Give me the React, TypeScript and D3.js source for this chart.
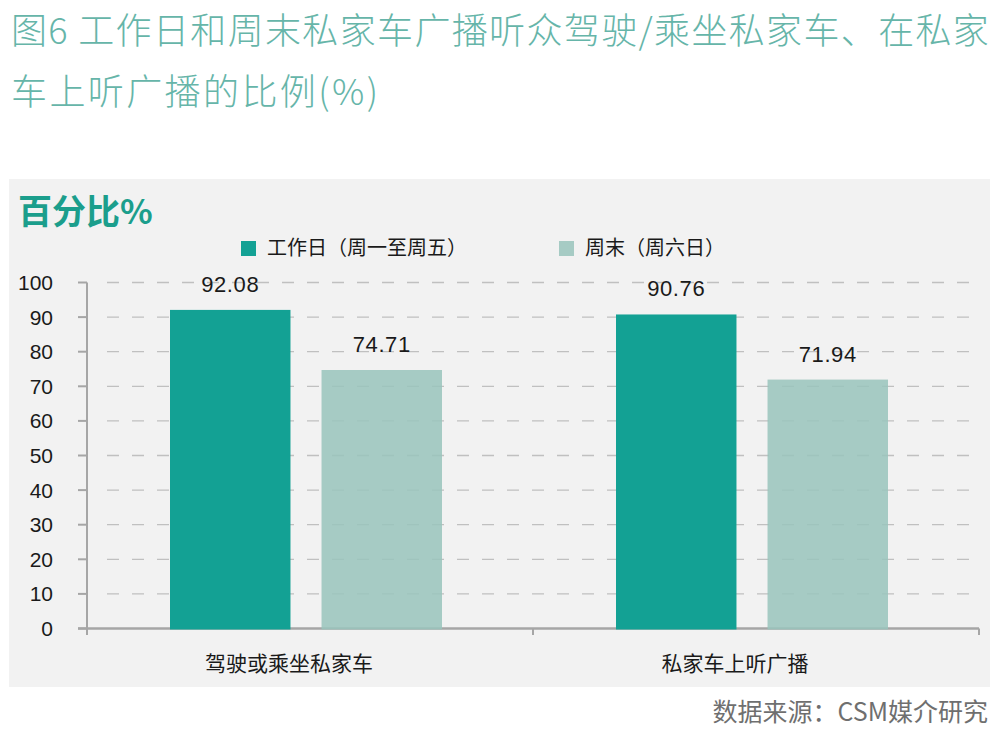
import * as d3 from "d3";

const categories = ["驾驶或乘坐私家车", "私家车上听广播"];
const seriesKeys = ["weekday", "weekend"];
const seriesNames = ["工作日（周一至周五）", "周末（周六日）"];
const weekdayValues = [92.08, 90.76];
const weekendValues = [74.71, 71.94];
const yTicks = [0, 10, 20, 30, 40, 50, 60, 70, 80, 90, 100];

const titleLines = [
  "图6 工作日和周末私家车广播听众驾驶/乘坐私家车、在私家",
  "车上听广播的比例(%)",
];
const unitLabel = "百分比%";
const sourceNote = "数据来源：CSM媒介研究";

const WIDTH = 999;
const HEIGHT = 742;
const cjk = "'Noto Sans CJK SC', 'Noto Sans', sans-serif";
const latin = "'Liberation Sans', Arial, 'Noto Sans CJK SC', sans-serif";
const colors = ["#13a194", "#99c4bc"];
const opacities = [1, 0.85];

function App() {
  const x0 = d3.scaleBand<string>().domain(categories).range([87, 979]).padding(0);
  const x1 = d3.scaleBand<string>().domain(seriesKeys).range([-140, 132]).paddingInner(0.205);
  const y = d3.scaleLinear().domain([0, 100]).range([628.5, 282.5]);

  const rows = categories.map((c, i) => ({
    category: c,
    values: [weekdayValues[i], weekendValues[i]],
  }));

  const axisColor = "#a6a6a6";
  const boundaries = [x0.range()[0] + x0.bandwidth(), x0.range()[1]];

  return (
    <svg
      width={WIDTH}
      height={HEIGHT}
      style={{ position: "absolute", left: 0, top: 0, background: "#fff" }}
    >
      {/* title */}
      {titleLines.map((t, i) => (
        <text
          key={i}
          x={11}
          y={44 + i * 61}
          fill="#66b5a9"
          fontFamily={cjk}
          fontWeight={300}
          fontSize={36}
          letterSpacing={i === 0 ? 1.35 : 2.4}
        >
          {t}
        </text>
      ))}

      {/* panel */}
      <rect x={9} y={179} width={981} height={508} fill="#f2f2f2" />

      <text x={18} y={224} fill="#1b9e8c" fontFamily={cjk} fontWeight={700} fontSize={34}>
        {unitLabel}
      </text>

      {/* legend */}
      {seriesNames.map((name, i) => {
        const lx = [241, 559][i];
        return (
          <g key={name}>
            <rect x={lx} y={241} width={15} height={15} fill={colors[i]} fillOpacity={opacities[i]} />
            <text x={lx + 26} y={255} fill="#1a1a1a" fontFamily={cjk} fontSize={20}>
              {name}
            </text>
          </g>
        );
      })}

      {/* gridlines */}
      {yTicks
        .filter((t) => t > 0)
        .map((t) => (
          <line
            key={t}
            x1={107}
            x2={980}
            y1={y(t)}
            y2={y(t)}
            stroke="#c0c0c0"
            strokeWidth={1.3}
            strokeDasharray="12 13"
          />
        ))}

      {/* axes */}
      <line x1={87} x2={87} y1={y(100)} y2={635} stroke={axisColor} strokeWidth={2} />
      <line x1={78} x2={979} y1={y(0)} y2={y(0)} stroke={axisColor} strokeWidth={2.5} />
      {yTicks.map((t) => (
        <g key={t}>
          <line x1={78} x2={87} y1={y(t)} y2={y(t)} stroke={axisColor} strokeWidth={2} />
          <text
            x={53}
            y={y(t) + 7.5}
            textAnchor="end"
            fill="#1a1a1a"
            fontFamily={latin}
            fontSize={21}
          >
            {t}
          </text>
        </g>
      ))}
      {boundaries.map((bx, i) => (
        <line key={i} x1={bx} x2={bx} y1={y(0)} y2={635} stroke={axisColor} strokeWidth={2} />
      ))}

      {/* bars */}
      {rows.map((r) => {
        const cx = (x0(r.category) ?? 0) + x0.bandwidth() / 2;
        return (
          <g key={r.category}>
            {r.values.map((v, i) => {
              const bx = cx + (x1(seriesKeys[i]) ?? 0);
              return (
                <g key={i}>
                  <rect
                    x={bx}
                    y={y(v)}
                    width={x1.bandwidth()}
                    height={y(0) - y(v) + 1}
                    fill={colors[i]}
                    fillOpacity={opacities[i]}
                  />
                  <text
                    x={bx + x1.bandwidth() / 2}
                    y={y(v) - 18}
                    textAnchor="middle"
                    fill="#1a1a1a"
                    fontFamily={latin}
                    fontSize={22}
                    letterSpacing={0.6}
                  >
                    {v.toFixed(2)}
                  </text>
                </g>
              );
            })}
            <text
              x={cx - 21}
              y={671}
              textAnchor="middle"
              fill="#1a1a1a"
              fontFamily={cjk}
              fontSize={21}
            >
              {r.category}
            </text>
          </g>
        );
      })}

      {/* source */}
      <text x={988} y={721} textAnchor="end" fill="#6f6f6f" fontFamily={cjk} fontSize={25}>
        {sourceNote}
      </text>
    </svg>
  );
}

export default App;
